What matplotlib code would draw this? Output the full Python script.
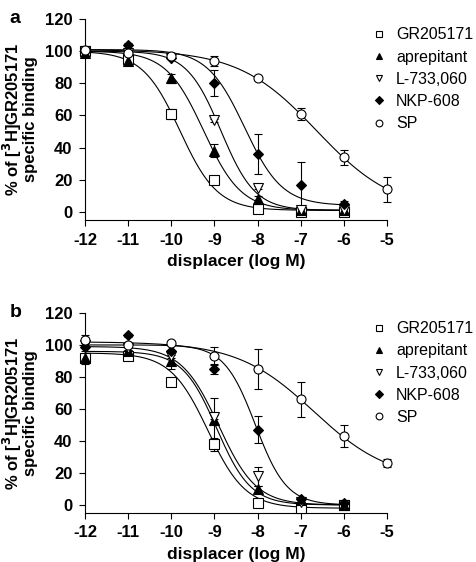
import numpy as np
import matplotlib
matplotlib.use("Agg")
import matplotlib.pyplot as plt

plt.rcParams['font.family'] = ['Liberation Sans', 'DejaVu Sans']
plt.rcParams['axes.unicode_minus'] = False

# log M concentrations
log_conc = [-12, -11, -10, -9, -8, -7, -6]
log_conc_sp = [-12, -11, -10, -9, -8, -7, -6, -5]

compounds = ["GR205171", "aprepitant", "L-733,060", "NKP-608", "SP"]
markers = ["s", "^", "v", "D", "o"]
filled = [False, True, False, True, False]
msizes = [6.5, 6.5, 6.5, 5.0, 6.5]

# panel a: mean % specific binding
a_gr = [100, 95, 61, 20, 2, 0, 0]
a_apr = [99, 94, 83, 38, 8, 1, 1]
a_l73 = [100, 99, 96, 57, 15, 1, 1]
a_nkp = [100, 104, 96, 80, 36, 17, 5]
a_sp = [101, 99, 97, 94, 83, 61, 34, 14]
# panel a: SEM
a_gr_err = [1, 1, 3, 1, 1, 1, 1]
a_apr_err = [1, 1, 2.5, 4, 2, 1, 1]
a_l73_err = [1, 1, 1, 1, 1, 1, 1]
a_nkp_err = [1, 1, 1, 8, 12.5, 14, 2]
a_sp_err = [1, 1, 1, 3, 1, 3.5, 4.5, 8]

# panel b
b_gr = [92, 93, 77, 38, 1, -2, 0]
b_apr = [92, 96, 90, 53, 10, 3, 0]
b_l73 = [100, 98, 93, 55, 18, 2, 0]
b_nkp = [99, 106, 96, 85, 47, 4, 1]
b_sp = [103, 100, 101, 93, 85, 66, 43, 26]
b_gr_err = [1, 1, 2, 4, 1, 1, 1]
b_apr_err = [4, 1, 5, 14, 2, 1, 1]
b_l73_err = [1, 1, 1, 1, 6, 1, 1]
b_nkp_err = [1, 1, 1, 3, 8.5, 1, 1]
b_sp_err = [3.5, 1, 1, 5.5, 12.5, 11, 7, 2.5]

# fitted sigmoid parameters: top, bottom, logIC50, hill
a_fit = [(100, 1, -9.8, 1.0), (100, 1, -9.25, 1.0), (100, 1, -8.85, 1.1),
         (101, 4, -8.3, 1.0), (101, 0, -6.63, 0.48)]
b_fit = [(95, -2, -9.15, 1.0), (96, 0, -8.95, 1.1), (99, 0, -8.9, 1.0),
         (100, 0, -8.05, 1.2), (102, 15, -6.7, 0.49)]


def sigmoid(x, top, bottom, logic50, hill):
    return bottom + (top - bottom) / (1 + 10 ** (hill * (x - logic50)))


def draw_panel(ax, means, errs, fits, letter):
    for i, name in enumerate(compounds):
        xs = log_conc_sp if name == "SP" else log_conc
        xfit = np.linspace(-12, xs[-1], 300)
        ax.plot(xfit, sigmoid(xfit, *fits[i]), color="black", lw=0.8, zorder=2)
        ax.errorbar(xs, means[i], yerr=errs[i], fmt="none", ecolor="black",
                    elinewidth=0.8, capsize=3, capthick=0.8, zorder=3,
                    clip_on=False)
        ax.plot(xs, means[i], linestyle="none", marker=markers[i], ms=msizes[i],
                mfc="black" if filled[i] else "white", mec="black", mew=0.8,
                label=name, zorder=4, clip_on=False)

    ax.set_xlim(-12, -5)
    ax.set_ylim(-5, 120)
    ax.set_xticks(range(-12, -4))
    ax.set_yticks(range(0, 121, 20))
    ax.spines["top"].set_visible(False)
    ax.spines["right"].set_visible(False)
    ax.spines["left"].set_bounds(-5, 120)
    ax.tick_params(direction="out", length=4, width=0.8, labelsize=12, pad=5)
    for lab in ax.get_xticklabels() + ax.get_yticklabels():
        lab.set_fontweight("bold")
    ax.set_xlabel("displacer (log M)", fontsize=12.5, fontweight="bold", labelpad=5)
    ax.set_ylabel("% of [$\\mathbf{^3}$H]GR205171\nspecific binding", fontsize=12,
                  fontweight="bold", labelpad=5, linespacing=0.95)
    ax.legend(loc="upper left", bbox_to_anchor=(0.93, 0.99), frameon=False,
              fontsize=11.5, handlelength=0.8, handletextpad=0.7, markerscale=0.75,
              labelspacing=0.45, borderaxespad=0)
    ax.text(-0.25, 1.0, letter, transform=ax.transAxes, fontsize=14,
            fontweight="bold", va="center", ha="left")


fig = plt.figure(figsize=(4.76, 5.62), dpi=100)
ax_a = fig.add_axes([0.1786, 0.6085, 0.6345, 0.3577])
ax_b = fig.add_axes([0.1786, 0.0872, 0.6345, 0.356])

draw_panel(ax_a, [a_gr, a_apr, a_l73, a_nkp, a_sp],
           [a_gr_err, a_apr_err, a_l73_err, a_nkp_err, a_sp_err], a_fit, "a")
draw_panel(ax_b, [b_gr, b_apr, b_l73, b_nkp, b_sp],
           [b_gr_err, b_apr_err, b_l73_err, b_nkp_err, b_sp_err], b_fit, "b")

fig.savefig("out.png", dpi=100)
